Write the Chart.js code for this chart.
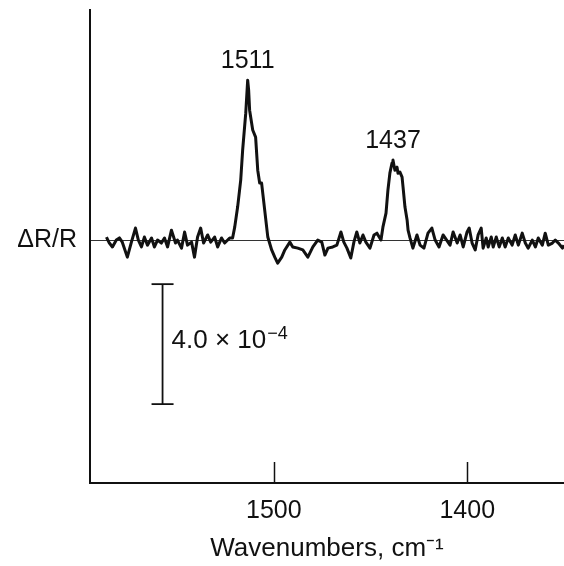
<!DOCTYPE html>
<html>
<head>
<meta charset="utf-8">
<script src="https://cdn.jsdelivr.net/npm/chart.js@4.4.1/dist/chart.umd.min.js"></script>
<style>
  html, body { margin: 0; padding: 0; background: #fff; }
  canvas { display: block; }
</style>
</head>
<body>
<canvas id="spectrum" width="564" height="566"></canvas>
<script>
// wavenumber (cm-1) of each sample along the trace
const wavenumbers = [
  1586.5, 1585.0, 1583.4, 1581.4, 1579.8, 1578.3, 1575.7, 1573.6, 1571.5, 1570.0,
  1568.4, 1566.9, 1565.3, 1563.2, 1561.7, 1560.1, 1558.1, 1556.5, 1554.9, 1552.9,
  1550.8, 1549.8, 1547.7, 1546.1, 1544.6, 1542.5, 1541.0, 1539.4, 1537.8, 1536.3,
  1534.2, 1532.6, 1530.6, 1529.0, 1527.0, 1525.4, 1522.8, 1521.3,
  1520.2, 1518.7, 1517.1, 1516.1, 1514.5, 1513.5, 1513.0, 1512.5, 1510.9, 1509.4,
  1508.3, 1507.3, 1506.3, 1504.7, 1503.1, 1501.1, 1499.5, 1498.0, 1495.9, 1494.3,
  1491.7, 1490.2, 1487.6, 1485.0, 1482.4, 1479.8, 1477.3, 1475.2, 1473.6, 1472.0,
  1469.5, 1467.4, 1465.3, 1463.8, 1462.2, 1460.2, 1458.6, 1457.1, 1455.5, 1453.9,
  1452.4, 1450.3, 1448.2, 1446.7, 1444.6, 1443.6, 1442.0, 1441.0, 1440.0, 1438.9,
  1438.4, 1437.4, 1436.3, 1435.8, 1434.8, 1433.7, 1433.2, 1432.2, 1431.1, 1430.6,
  1429.6, 1428.1, 1426.0, 1424.4, 1422.4, 1420.3, 1418.3, 1416.6, 1414.6, 1412.5,
  1410.4, 1408.9, 1407.3, 1405.2, 1403.7, 1402.1, 1400.1, 1399.0, 1397.5, 1395.9,
  1394.4, 1392.8, 1391.8, 1390.2, 1389.2, 1387.6, 1386.6, 1385.0, 1383.5, 1381.9,
  1380.4, 1378.8, 1376.8, 1375.2, 1373.6, 1371.6, 1370.0, 1368.5, 1366.4, 1364.8,
  1363.3, 1361.2, 1359.7, 1358.1, 1356.0, 1354.5, 1352.9, 1350.8, 1350.0
];

// ΔR/R in units of 1e-4
const deltaR = [
  0.10, -0.10, -0.23, 0.00, 0.07, -0.07, -0.57, -0.07, 0.40, 0.00,
  -0.23, 0.10, -0.17, 0.07, -0.23, 0.00, -0.10, 0.07, -0.23, 0.33,
  -0.10, 0.00, -0.27, 0.27, -0.17, -0.07, -0.57, 0.10, 0.40, -0.10,
  0.17, -0.07, 0.10, -0.23, 0.07, -0.10, 0.07, 0.07,
  0.43, 1.10, 2.00, 3.00, 4.23, 5.33, 5.00, 4.33, 3.67, 3.43,
  2.33, 1.90, 1.90, 1.00, 0.10, -0.33, -0.57, -0.77, -0.57, -0.33,
  -0.07, -0.23, -0.27, -0.33, -0.57, -0.23, 0.00, -0.07, -0.50, -0.27,
  -0.23, -0.17, 0.27, -0.07, -0.27, -0.60, -0.07, 0.27, -0.10, 0.17,
  -0.07, -0.27, 0.17, 0.23, 0.00, 0.43, 0.90, 1.67, 2.23, 2.57,
  2.67, 2.33, 2.43, 2.23, 2.27, 2.10, 1.77, 1.10, 0.67, 0.33,
  0.07, -0.27, 0.17, -0.17, -0.27, 0.23, 0.40, 0.00, -0.23, 0.17,
  -0.03, -0.17, 0.27, -0.10, 0.17, -0.23, 0.27, 0.40, -0.10, -0.33,
  0.17, 0.40, -0.27, 0.07, -0.23, 0.10, -0.23, 0.10, -0.23, 0.07,
  -0.23, 0.07, -0.17, 0.17, -0.17, 0.23, -0.10, -0.27, 0.00, -0.23,
  0.07, -0.17, 0.23, -0.17, -0.10, 0.00, -0.10, -0.27, -0.17
];

const xTicks = [1500, 1400];
const xRange = [1350, 1595];
const yRange = [-8.1, 7.67];

const peakLabels = ['1511', '1437'];
const peakPositions = [1513.5, 1438.4];
const peakHeights = [5.33, 2.67];

// scale bar, 4.0 x 10^-4
const scaleBarSize = 4.0;
const scaleBarTop = -1.47;
const scaleBarPosition = 1557.5;

const FONT = '"Liberation Sans", Arial, Helvetica, sans-serif';
const INK = '#111';

// chart.js pads the axes for edge labels; this figure has none
const noPadding = (s) => {
  s.paddingLeft = 0;
  s.paddingRight = 0;
  s.paddingTop = 0;
  s.paddingBottom = 0;
};

const annotations = {
  id: 'annotations',
  afterDatasetsDraw(chart) {
    const { ctx, scales: { x, y } } = chart;
    ctx.save();

    // tick marks point inward, up from the axis
    ctx.strokeStyle = INK;
    ctx.lineWidth = 1.5;
    xTicks.forEach((v) => {
      const px = Math.round(x.getPixelForValue(v)) + 0.5;
      ctx.beginPath();
      ctx.moveTo(px, y.bottom);
      ctx.lineTo(px, y.bottom - 21);
      ctx.stroke();
    });

    ctx.fillStyle = INK;
    ctx.textAlign = 'center';
    ctx.textBaseline = 'alphabetic';
    ctx.font = '25px ' + FONT;
    peakLabels.forEach((label, i) => {
      ctx.fillText(label, x.getPixelForValue(peakPositions[i]), y.getPixelForValue(peakHeights[i]) - 12);
    });

    // label next to the scale bar
    const bx = x.getPixelForValue(scaleBarPosition) + 9;
    const by = y.getPixelForValue(scaleBarTop - scaleBarSize / 2) + 4;
    ctx.textAlign = 'left';
    ctx.font = '26px ' + FONT;
    const main = scaleBarSize.toFixed(1) + ' \u00d7 10';
    ctx.fillText(main, bx, by);
    const w = ctx.measureText(main).width;
    ctx.font = '18px ' + FONT;
    ctx.fillText('\u22124', bx + w + 1, by - 9);

    ctx.restore();
  }
};

new Chart(document.getElementById('spectrum'), {
  type: 'line',
  data: {
    datasets: [
      {
        data: wavenumbers.map((w, i) => ({ x: w, y: deltaR[i] })),
        borderColor: INK,
        borderWidth: 3,
        borderJoinStyle: 'round',
        pointRadius: 0,
        tension: 0,
        fill: false
      },
      {
        data: [
          { x: scaleBarPosition, y: scaleBarTop },
          { x: scaleBarPosition, y: scaleBarTop - scaleBarSize }
        ],
        borderColor: INK,
        borderWidth: 1.8,
        pointStyle: 'line',
        pointRadius: 11,
        pointBorderWidth: 1.8,
        pointBorderColor: INK,
        fill: false
      }
    ]
  },
  options: {
    responsive: false,
    animation: false,
    layout: { autoPadding: false, padding: { top: 10, left: 0, right: 0, bottom: 0 } },
    plugins: { legend: { display: false }, tooltip: { enabled: false } },
    scales: {
      x: {
        type: 'linear',
        reverse: true,
        min: xRange[0],
        max: xRange[1],
        afterBuildTicks: (s) => { s.ticks = xTicks.map((v) => ({ value: v })); },
        afterFit: (s) => { s.height = 83; noPadding(s); },
        grid: { display: false, drawTicks: false },
        border: { display: true, color: INK, width: 2 },
        ticks: {
          color: INK,
          font: { family: FONT, size: 25 },
          padding: 13,
          maxRotation: 0,
          callback: (v) => String(v)
        },
        title: {
          display: true,
          text: 'Wavenumbers, cm\u207b\u00b9',
          color: INK,
          font: { family: FONT, size: 26 },
          padding: { top: 0, bottom: 2 }
        }
      },
      y: {
        min: yRange[0],
        max: yRange[1],
        afterBuildTicks: (s) => { s.ticks = [{ value: 0 }]; },
        afterFit: (s) => { s.width = 90; noPadding(s); },
        grid: { display: true, drawTicks: false, color: '#333', lineWidth: 1 },
        border: { display: true, color: INK, width: 2 },
        ticks: { color: INK, font: { family: FONT, size: 25 }, padding: 13, callback: () => '\u0394R/R' }
      }
    }
  },
  plugins: [annotations]
});
</script>
</body>
</html>
